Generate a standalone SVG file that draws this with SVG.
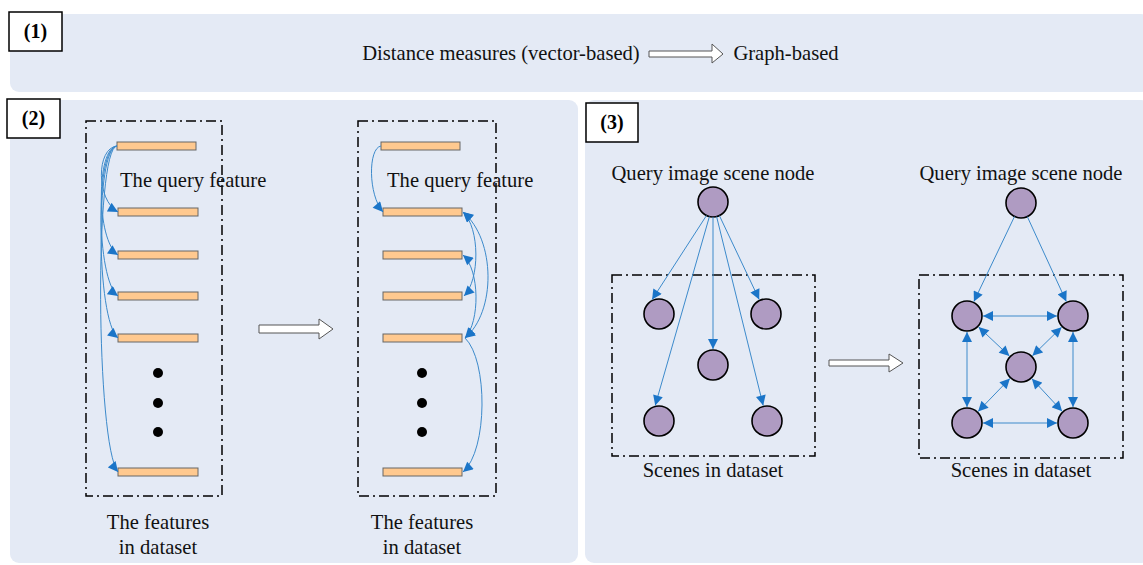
<svg xmlns="http://www.w3.org/2000/svg" width="1143" height="565" viewBox="0 0 1143 565">
<defs>
<style>
.bg{fill:#E4EAF5;stroke:none}
.lbl{fill:#fff;stroke:#000;stroke-width:1.5}
.lt{font-family:"Liberation Serif",serif;font-size:20px;font-weight:bold;fill:#000}
.t{font-family:"Liberation Serif",serif;font-size:20.6px;fill:#111}
.box{fill:none;stroke:#000;stroke-width:1.5;stroke-dasharray:10 4 2 4}
.bar{fill:#FFC98F;stroke:#666;stroke-width:1}
.dot{fill:#000}
.node{fill:#AF9BC2;stroke:#000;stroke-width:1.6}
.c{fill:none;stroke:#3C8ACB;stroke-width:1}
.h{fill:#fff;stroke:#555;stroke-width:1}
</style>
<marker id="ah" viewBox="0 0 10 10" refX="10" refY="5" markerWidth="11" markerHeight="10" orient="auto-start-reverse" markerUnits="userSpaceOnUse">
<path d="M0,0 L10,5 L0,10 z" fill="#1B75C8"/>
</marker>
</defs>
<rect x="0" y="0" width="1143" height="565" fill="#fff"/>

<g id="panel1">
<rect class="bg" x="10" y="14" width="1140" height="78" rx="9"/>
<rect class="lbl" x="9" y="12" width="53" height="39"/>
<text class="lt" x="35.5" y="38" text-anchor="middle">(1)</text>
<text class="t" x="501" y="60" text-anchor="middle">Distance measures (vector-based)</text>
<polygon class="h" points="649,51 712,51 712,44 723,54 712,63 712,57 649,57"/>
<text class="t" x="786" y="60" text-anchor="middle">Graph-based</text>
</g>

<g id="panel2">
<rect class="bg" x="10" y="100" width="568" height="463" rx="9"/>
<rect class="lbl" x="7" y="99" width="53" height="39"/>
<text class="lt" x="33.5" y="125" text-anchor="middle">(2)</text>
<polygon class="h" points="259,325 319,325 319,319 333,329 319,339 319,333 259,333"/>
</g>

<g id="left-features">
<rect class="box" x="86" y="121" width="136" height="375"/>
<rect class="bar" x="117" y="142" width="79" height="8"/>
<rect class="bar" x="118" y="208" width="80" height="8"/>
<rect class="bar" x="118" y="251" width="80" height="8"/>
<rect class="bar" x="118" y="292" width="80" height="8"/>
<rect class="bar" x="118" y="334" width="80" height="8"/>
<rect class="bar" x="118" y="468" width="80" height="8"/>
<circle class="dot" cx="158" cy="373" r="5"/>
<circle class="dot" cx="158" cy="403" r="5"/>
<circle class="dot" cx="158" cy="432" r="5"/>
<text class="t" x="120" y="187">The query feature</text>
<text class="t" x="158" y="529" text-anchor="middle">The features</text>
<text class="t" x="158" y="554" text-anchor="middle">in dataset</text>
</g>

<g id="right-features">
<rect class="box" x="358" y="121" width="138" height="375"/>
<rect class="bar" x="381" y="142" width="79" height="8"/>
<rect class="bar" x="383" y="208" width="79" height="8"/>
<rect class="bar" x="383" y="251" width="79" height="8"/>
<rect class="bar" x="383" y="292" width="79" height="8"/>
<rect class="bar" x="383" y="334" width="79" height="8"/>
<rect class="bar" x="383" y="468" width="79" height="8"/>
<circle class="dot" cx="422" cy="373" r="5"/>
<circle class="dot" cx="422" cy="403" r="5"/>
<circle class="dot" cx="422" cy="432" r="5"/>
<text class="t" x="387" y="187">The query feature</text>
<text class="t" x="422" y="529" text-anchor="middle">The features</text>
<text class="t" x="422" y="554" text-anchor="middle">in dataset</text>
</g>

<g id="panel3">
<rect class="bg" x="585" y="100" width="565" height="463" rx="9"/>
<rect class="lbl" x="586" y="103" width="52" height="39"/>
<text class="lt" x="612" y="129" text-anchor="middle">(3)</text>
<polygon class="h" points="829,360 889,360 889,354 903,363 889,372 889,366 829,366"/>
</g>

<g id="left-graph">
<text class="t" x="713" y="180" text-anchor="middle">Query image scene node</text>
<rect class="box" x="612" y="275" width="203" height="181"/>
<circle class="node" cx="713" cy="202" r="15"/>
<circle class="node" cx="659" cy="314" r="15"/>
<circle class="node" cx="766" cy="314" r="15"/>
<circle class="node" cx="713" cy="365" r="15"/>
<circle class="node" cx="659" cy="421" r="15"/>
<circle class="node" cx="767" cy="421" r="15"/>
<text class="t" x="713" y="477" text-anchor="middle">Scenes in dataset</text>
</g>

<g id="right-graph">
<text class="t" x="1021" y="180" text-anchor="middle">Query image scene node</text>
<rect class="box" x="919" y="275" width="204" height="183"/>
<circle class="node" cx="1021" cy="203" r="15"/>
<circle class="node" cx="967" cy="316" r="15"/>
<circle class="node" cx="1073" cy="316" r="15"/>
<circle class="node" cx="1021" cy="367" r="15"/>
<circle class="node" cx="967" cy="423" r="15"/>
<circle class="node" cx="1073" cy="423" r="15"/>
<text class="t" x="1021" y="477" text-anchor="middle">Scenes in dataset</text>
</g>

<g id="connectors">
<path class="c" marker-end="url(#ah)" d="M117,146 C96,148 96,200 118,212"/>
<path class="c" marker-end="url(#ah)" d="M117,146 C96,148 96,240 118,255"/>
<path class="c" marker-end="url(#ah)" d="M117,146 C95,148 96,280 118,296"/>
<path class="c" marker-end="url(#ah)" d="M117,146 C95,148 96,320 118,338"/>
<path class="c" marker-end="url(#ah)" d="M117,146 C94,148 96,445 118,472"/>
<path class="c" marker-end="url(#ah)" d="M381,146 C368,148 368,195 383,212"/>
<path class="c" marker-start="url(#ah)" marker-end="url(#ah)" d="M463,212 C480,228 480,280 464,296"/>
<path class="c" marker-start="url(#ah)" marker-end="url(#ah)" d="M463,255 C480,270 480,322 465,338"/>
<path class="c" marker-start="url(#ah)" marker-end="url(#ah)" d="M463,212 C496,240 496,312 465,338"/>
<path class="c" marker-end="url(#ah)" d="M465,338 C488,360 488,450 463,472"/>
<line class="c" marker-end="url(#ah)" x1="706.5" y1="215.5" x2="652.1" y2="299.6"/>
<line class="c" marker-end="url(#ah)" x1="719.4" y1="215.6" x2="759.2" y2="299.5"/>
<line class="c" marker-end="url(#ah)" x1="713" y1="217" x2="713" y2="349"/>
<line class="c" marker-end="url(#ah)" x1="709.4" y1="216.6" x2="655.2" y2="405.5"/>
<line class="c" marker-end="url(#ah)" x1="716.6" y1="216.6" x2="763.2" y2="405.5"/>
<line class="c" marker-end="url(#ah)" x1="1014.5" y1="216.5" x2="973.9" y2="301.6"/>
<line class="c" marker-end="url(#ah)" x1="1027.3" y1="216.6" x2="1066.3" y2="301.5"/>
<line class="c" marker-start="url(#ah)" marker-end="url(#ah)" x1="983" y1="316" x2="1057" y2="316"/>
<line class="c" marker-start="url(#ah)" marker-end="url(#ah)" x1="983" y1="423" x2="1057" y2="423"/>
<line class="c" marker-start="url(#ah)" marker-end="url(#ah)" x1="967" y1="332" x2="967" y2="407"/>
<line class="c" marker-start="url(#ah)" marker-end="url(#ah)" x1="1073" y1="332" x2="1073" y2="407"/>
<line class="c" marker-start="url(#ah)" marker-end="url(#ah)" x1="978.6" y1="327" x2="1009.4" y2="356"/>
<line class="c" marker-start="url(#ah)" marker-end="url(#ah)" x1="1061.6" y1="327.2" x2="1032.4" y2="355.8"/>
<line class="c" marker-start="url(#ah)" marker-end="url(#ah)" x1="1009.9" y1="378.5" x2="978.1" y2="411.5"/>
<line class="c" marker-start="url(#ah)" marker-end="url(#ah)" x1="1031.9" y1="378.7" x2="1062.1" y2="411.3"/>
</g>
</svg>
